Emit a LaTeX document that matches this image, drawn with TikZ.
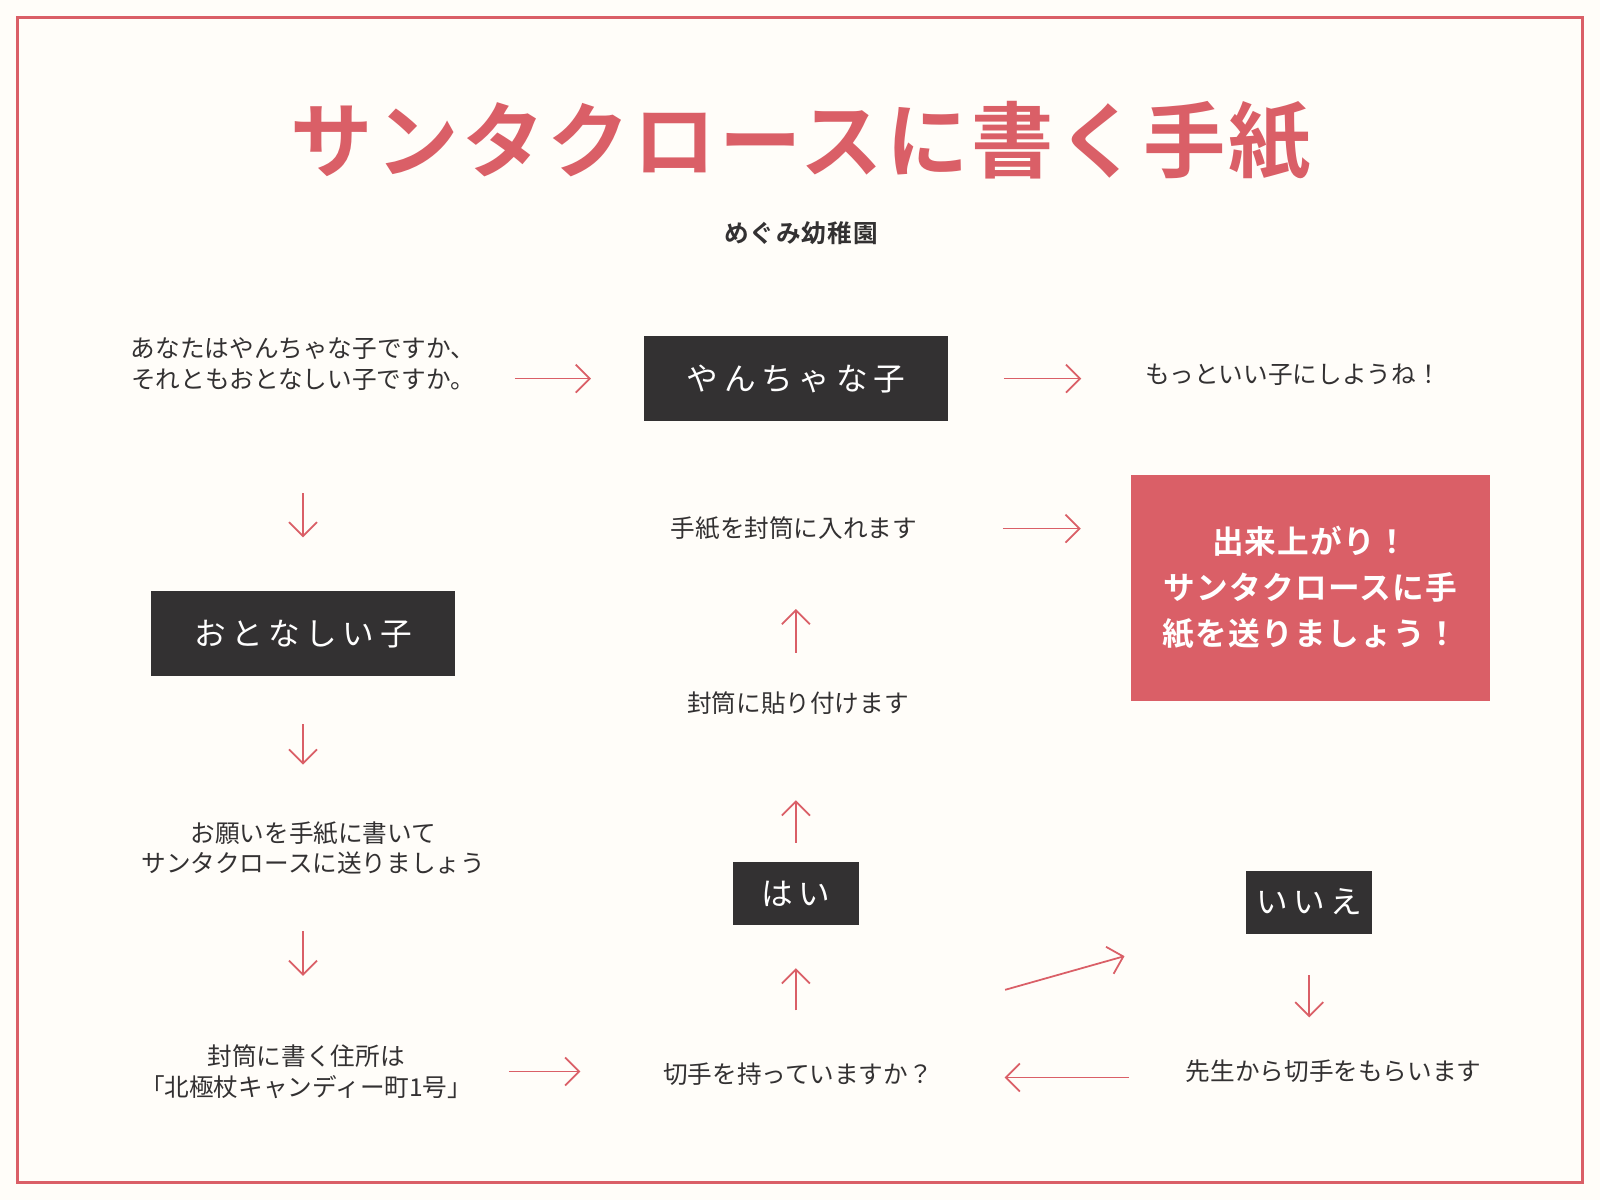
\documentclass[tikz,border=0pt]{standalone}
\usepackage{fontspec}
\setmainfont{Noto Sans CJK JP}
\newfontfamily\boxfont[LetterSpace=18]{Noto Sans CJK JP}
\newfontfamily\boldfont[LetterSpace=4]{Noto Sans CJK JP Bold}
\usetikzlibrary{arrows.meta,positioning}
\definecolor{santa-red}{HTML}{DA5F67}
\definecolor{box-dark}{HTML}{333132}
\definecolor{paper}{HTML}{FFFDF9}

\begin{document}
\begin{tikzpicture}[x=0.0102cm, y=-0.0102cm,
    txt/.style={inner sep=0pt, align=center, font=\fontsize{7}{8.7}\selectfont, text=box-dark},
    dbox/.style={fill=box-dark, text=white, inner sep=0pt, font=\boxfont\fontsize{9}{11}\selectfont},
    arr/.style={draw=santa-red, line width=0.5pt, -{Straight Barb[length=1.4mm, width=2.8mm]}}
]
  % Background and frame
  \useasboundingbox (0,0) rectangle (1568,1176);
  \fill[paper] (0,0) rectangle (1568,1176);
  \draw[santa-red, line width=1pt] (17,17) rectangle (1551,1159);

  % Title
  \node[inner sep=0pt, text=santa-red, font=\boldfont\fontsize{23.4}{26}\selectfont] (title) at (785,138) {サンタクロースに書く手紙};
  \node[inner sep=0pt, text=box-dark, font=\boldfont\fontsize{7}{9}\selectfont] (sub) at (785,228) {めぐみ幼稚園};

  % Left column
  \node[txt] (q1) at (297,357) {あなたはやんちゃな子ですか、\\それともおとなしい子ですか。};
  \node[dbox, minimum width=3.04cm, minimum height=0.85cm] (otona) at (297,621) {おとなしい子};
  \node[txt] (onegai) at (307,831) {お願いを手紙に書いて\\サンタクロースに送りましょう};
  \node[txt] (addr) at (300,1050) {封筒に書く住所は\\「北極杖キャンディー町1号」};

  % Middle column
  \node[dbox, minimum width=3.04cm, minimum height=0.85cm] (yancha) at (780,371) {やんちゃな子};
  \node[txt] (tegami) at (778,518) {手紙を封筒に入れます};
  \node[txt] (hari) at (782,689) {封筒に貼り付けます};
  \node[dbox, minimum width=1.26cm, minimum height=0.63cm] (hai) at (780,876) {はい};
  \node[txt] (kitte) at (782,1053) {切手を持っていますか？};

  % Right column
  \node[txt] (motto) at (1267,367) {もっといい子にしようね！};
  \node[fill=santa-red, text=white, minimum width=3.59cm, minimum height=2.26cm, inner sep=0pt,
        align=center, font=\boldfont\fontsize{9}{13}\selectfont] (done) at (1284,576)
        {出来上がり！\\サンタクロースに手\\紙を送りましょう！};
  \node[dbox, minimum width=1.26cm, minimum height=0.63cm] (iie) at (1283,884) {いいえ};
  \node[txt] (sensei) at (1307,1050) {先生から切手をもらいます};
  \coordinate (d1) at (985,970);
  \coordinate (d2) at (1102,937);

  % Arrows
  \draw[arr, shorten <=0.39cm, shorten >=0.52cm] (q1.east |- yancha.west) -- (yancha.west);
  \draw[arr, shorten <=0.55cm, shorten >=0.63cm] (yancha.east) -- (motto.west |- yancha.east);
  \draw[arr, shorten <=1.02cm, shorten >=0.53cm] (q1.south -| otona.north) -- (otona.north);
  \draw[arr, shorten <=0.47cm, shorten >=0.56cm] (otona.south) -- (otona.south |- onegai.north);
  \draw[arr, shorten <=0.56cm, shorten >=0.68cm] (onegai.south -| otona.south) -- (otona.south |- addr.north);
  \draw[arr, shorten <=0.36cm, shorten >=0.82cm] (addr.east) -- (kitte.west |- addr.east);
  \draw[arr, shorten <=0.52cm, shorten >=0.42cm] (kitte.north -| hai.south) -- (hai.south);
  \draw[arr, shorten <=0.19cm, shorten >=0.85cm] (hai.north) -- (hai.north |- hari.south);
  \draw[arr, shorten <=0.38cm, shorten >=0.68cm] (hari.north -| hai.north) -- (hai.north |- tegami.south);
  \draw[arr, shorten <=0.85cm, shorten >=0.49cm] (tegami.east) -- (tegami.east -| done.west);
  \draw[arr] (d1) -- (d2);
  \draw[arr, shorten <=0.41cm, shorten >=0.42cm] (iie.south) -- (iie.south |- sensei.north);
  \draw[arr, shorten <=0.56cm, shorten >=0.71cm] (sensei.west |- 0,1056) -- (kitte.east |- 0,1056);
\end{tikzpicture}
\end{document}
